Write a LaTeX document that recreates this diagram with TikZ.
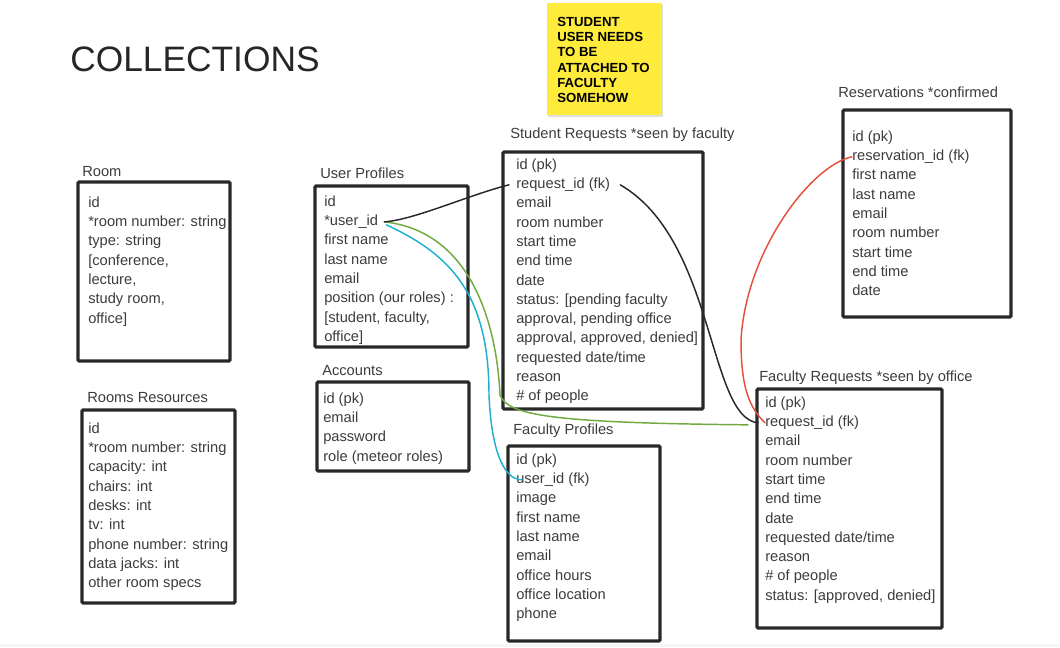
\documentclass[tikz,border=0pt]{standalone}
\usepackage{fontspec}
\setmainfont{Liberation Sans}
\usetikzlibrary{calc, positioning, fit}

\definecolor{ink}{RGB}{60,60,60}
\definecolor{frame}{RGB}{40,40,40}
\definecolor{notey}{RGB}{255,235,59}
\definecolor{lnkgreen}{RGB}{112,170,64}
\definecolor{lnkcyan}{RGB}{30,176,204}
\definecolor{lnkred}{RGB}{228,80,60}

\tikzset{
  tbox/.style={draw=frame, line width=2.3pt, rounded corners=0.8pt, inner sep=0pt},
  ttitle/.style={anchor=west, inner sep=0pt, yshift=-1.2pt, text=ink, font=\fontsize{11}{13}\selectfont},
  row/.style={anchor=west, inner sep=0pt, yshift=-1.9pt, text=ink, text height=8pt, text depth=2.5pt, font=\fontsize{11}{13}\selectfont},
  notebox/.style={fill=notey, inner sep=0pt},
  notetext/.style={anchor=north west, inner sep=0pt, align=left, text=black, font=\bfseries\fontsize{9.9}{11.4}\selectfont},
  link/.style={line width=1.1pt, line cap=round},
}

\begin{document}
\begin{tikzpicture}[x=0.75pt, y=-0.75pt]
  \useasboundingbox (0,0) rectangle (1060,647);
  \fill[gray!7] (0,644) rectangle (1060,647);

  % heading
  \node[anchor=base west, inner sep=0pt, text=black!85, font=\fontsize{26.5}{30}\selectfont] (heading) at (70,71) {COLLECTIONS};

  % sticky note
  \fill[gray!25] (548,5) rectangle (663,117);
  \node[notebox, fit={(547,3) (662,115)}] (note) {};
  \node[notetext] (note-text) at (557,17) {STUDENT\\USER NEEDS\\TO BE\\ATTACHED TO\\FACULTY\\SOMEHOW};

  % room
  \node[ttitle] (room-title) at (82,170) {Room};
  \node[tbox, fit={(78,182) (230,361)}] (room) {};
  \foreach \t [count=\i] in {id, {*room number: string}, {type: string}, {[conference,}, {lecture,}, {study room,}, {office]}}
    \node[row] (room-\i) at (88,{181.7+19.3*\i}) {\t};

  % rooms resources
  \node[ttitle] (rr-title) at (87,396) {Rooms Resources};
  \node[tbox, fit={(82,410) (235,603)}] (rr) {};
  \foreach \t [count=\i] in {id, {*room number: string}, {capacity: int}, {chairs: int}, {desks: int}, {tv: int}, {phone number: string}, {data jacks: int}, {other room specs}}
    \node[row] (rr-\i) at (88,{407.7+19.3*\i}) {\t};

  % user profiles
  \node[ttitle] (up-title) at (320,172) {User Profiles};
  \node[tbox, fit={(315,186) (468,347)}] (up) {};
  \foreach \t [count=\i] in {id, {*user\_id}, {first name}, {last name}, email, {position (our roles) :}, {[student, faculty,}, {office]}}
    \node[row] (up-\i) at (324,{180.7+19.3*\i}) {\t};

  % accounts
  \node[ttitle] (acc-title) at (322,369) {Accounts};
  \node[tbox, fit={(317,382) (469,471)}] (acc) {};
  \foreach \t [count=\i] in {{id (pk)}, email, password, {role (meteor roles)}}
    \node[row] (acc-\i) at (323,{377.7+19.3*\i}) {\t};

  % student requests
  \node[ttitle] (sr-title) at (510,133) {Student Requests *seen by faculty};
  \node[tbox, fit={(503,152) (703,409)}] (sr) {};
  \foreach \t [count=\i] in {{id (pk)}, {request\_id (fk)}, email, {room number}, {start time}, {end time}, date, {status: [pending faculty}, {approval, pending office}, {approval, approved, denied]}, {requested date/time}, reason, {\# of people}}
    \node[row] (sr-\i) at (516,{143.7+19.3*\i}) {\t};

  % faculty profiles
  \node[ttitle] (fp-title) at (513,429) {Faculty Profiles};
  \node[tbox, fit={(508,446) (660,641)}] (fp) {};
  \foreach \t [count=\i] in {{id (pk)}, {user\_id (fk)}, image, {first name}, {last name}, email, {office hours}, {office location}, phone}
    \node[row] (fp-\i) at (516,{438.7+19.3*\i}) {\t};

  % reservations
  \node[ttitle] (rs-title) at (838,91) {Reservations *confirmed};
  \node[tbox, fit={(843,110) (1011,317)}] (rs) {};
  \foreach \t [count=\i] in {{id (pk)}, {reservation\_id (fk)}, {first name}, {last name}, email, {room number}, {start time}, {end time}, date}
    \node[row] (rs-\i) at (852,{115.7+19.3*\i}) {\t};

  % faculty requests
  \node[ttitle] (fr-title) at (759,376) {Faculty Requests *seen by office};
  \node[tbox, fit={(757,389) (942,628)}] (fr) {};
  \foreach \t [count=\i] in {{id (pk)}, {request\_id (fk)}, email, {room number}, {start time}, {end time}, date, {requested date/time}, reason, {\# of people}, {status: [approved, denied]}}
    \node[row] (fr-\i) at (765,{381.7+19.3*\i}) {\t};

  % links
  \coordinate (gbend) at (500,395);
  \coordinate (cbend) at (489,395);
  \coordinate (rbend) at (741,340);
  \draw[link, lnkgreen] ($(up-2.east)+(6,0)$) .. controls +(90,10) and +(-3,-65) .. (gbend)
    .. controls +(8,20) and +(-200,-2) .. ($(fr-2.west)+(-17,2)$);
  \draw[link, lnkcyan] ($(up-2.east)+(8,3)$) .. controls +(65,30) and +(0,-100) .. (cbend)
    .. controls +(2,50) and +(-20,0) .. ($(fp-2.west)+(6,0)$);
  \draw[link, frame] ($(up-2.east)+(6,0)$) .. controls +(30,-2) and +(-40,10) .. ($(sr-2.west)+(-7,0)$);
  \draw[link, frame] ($(sr-2.east)+(10,0)$) .. controls +(95,55) and +(-50,-5) .. ($(fr-2.west)+(-7,0)$);
  \draw[link, lnkred] (rs-2.west) .. controls +(-40,8) and +(5,-90) .. (rbend)
    .. controls +(0,50) and +(-15,-15) .. (fr-2.west);
\end{tikzpicture}
\end{document}
